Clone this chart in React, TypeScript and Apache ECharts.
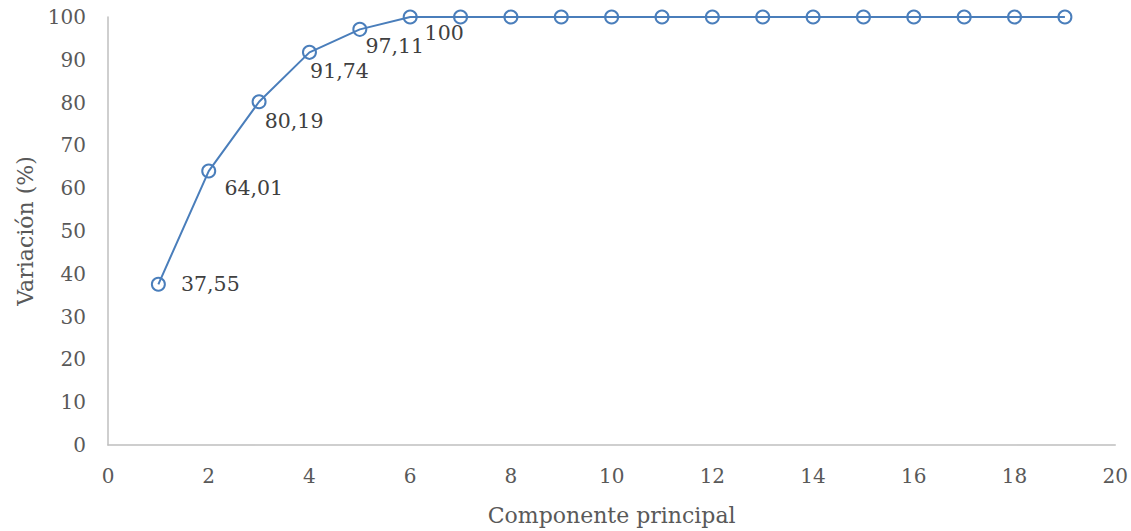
import React, { useEffect, useRef } from "react";
import * as echarts from "echarts";

const components = [1, 2, 3, 4, 5, 6, 7, 8, 9, 10, 11, 12, 13, 14, 15, 16, 17, 18, 19];
const variance = [37.55, 64.01, 80.19, 91.74, 97.11, 100, 100, 100, 100, 100, 100, 100, 100, 100, 100, 100, 100, 100, 100];
const labelledCount = 6;
const xAxisName = "Componente principal";
const yAxisName = "Variación (%)";

// label offsets (styling only) for the labelled points
const labelOffsets: [number, number][] = [
  [52, 0],
  [45, 17],
  [35, 19],
  [30, 19],
  [35, 17],
  [34, 16],
];

const FONT = "'DejaVu Serif', serif";

export default function App() {
  const ref = useRef<HTMLDivElement>(null);
  useEffect(() => {
    if (!ref.current) return;
    const chart = echarts.init(ref.current, null, { renderer: "svg" });
    const data = components.map((c, i) => {
      const item: any = { value: [c, variance[i]] };
      if (i < labelledCount) {
        item.label = {
          show: true,
          position: "inside",
          offset: labelOffsets[i],
          formatter: () => String(variance[i]).replace(".", ","),
          fontFamily: FONT,
          fontSize: 20.5,
          color: "#404040",
        };
      }
      return item;
    });
    chart.setOption({
      animation: false,
      backgroundColor: "#ffffff",
      grid: { left: 108, right: 15, top: 17, bottom: 85, containLabel: false },
      xAxis: {
        type: "value",
        min: 0,
        max: 20,
        interval: 2,
        name: xAxisName,
        nameLocation: "middle",
        nameGap: 59,
        nameTextStyle: { fontFamily: FONT, fontSize: 22, color: "#595959" },
        axisLine: { show: true, onZero: false, lineStyle: { color: "#bfbfbf", width: 1.5 } },
        axisTick: { show: false },
        splitLine: { show: false },
        axisLabel: { fontFamily: FONT, fontSize: 20, color: "#595959", margin: 21 },
      },
      yAxis: {
        type: "value",
        min: 0,
        max: 100,
        interval: 10,
        name: yAxisName,
        nameLocation: "middle",
        nameGap: 71,
        nameTextStyle: { fontFamily: FONT, fontSize: 22, color: "#595959" },
        axisLine: { show: true, lineStyle: { color: "#bfbfbf", width: 1.5 } },
        axisTick: { show: false },
        splitLine: { show: false },
        axisLabel: { fontFamily: FONT, fontSize: 20, color: "#595959", margin: 22 },
      },
      series: [
        {
          type: "line",
          data,
          symbol: "circle",
          symbolSize: 13,
          lineStyle: { color: "#4a7ebb", width: 2 },
          itemStyle: { color: "rgba(255,255,255,0)", borderColor: "#4a7ebb", borderWidth: 2 },
          label: { show: false },
          z: 3,
        },
      ],
    });
    return () => chart.dispose();
  }, []);
  return (
    <div
      ref={ref}
      style={{ position: "fixed", left: 0, top: 0, width: 1131, height: 531 }}
    />
  );
}
